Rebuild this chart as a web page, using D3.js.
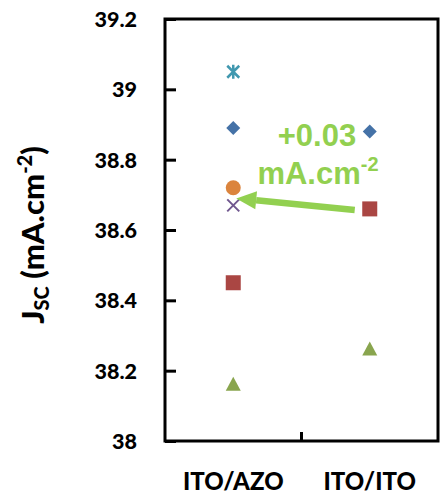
<!DOCTYPE html>
<html>
<head>
<meta charset="utf-8">
<script src="https://cdn.jsdelivr.net/npm/d3@7"></script>
<style>
  html, body { margin: 0; padding: 0; background: #fff; }
  svg { display: block; }
</style>
</head>
<body>
<svg id="chart" width="442" height="495"></svg>
<script>
// Short-circuit current density per electrode configuration
const categories = ["ITO/AZO", "ITO/ITO"];
const seriesNames = ["S1", "S2", "S3", "S4", "S5", "S6"];
const seriesShapes = ["diamond", "square", "triangle", "x", "star", "circle"];
const seriesColors = ["#4572A7", "#AA4643", "#89A54E", "#71588F", "#4198AF", "#DB843D"];
const seriesValues = [
  [38.89, 38.88],
  [38.45, 38.66],
  [38.16, 38.26],
  [38.67, null],
  [39.05, null],
  [38.72, null]
];
const yTicks = [38, 38.2, 38.4, 38.6, 38.8, 39, 39.2];
const yTickLabels = ["38", "38.2", "38.4", "38.6", "38.8", "39", "39.2"];
// Annotated gain: ITO/ITO square -> ITO/AZO cross
const deltaLabel = ["+0.03", "mA.cm", "-2"];

const svg = d3.select("#chart");
const plotLeft = 165, plotRight = 438, plotTop = 19, plotBottom = 441;

const x = d3.scaleBand().domain(categories).range([plotLeft, plotRight]);
const y = d3.scaleLinear().domain([38, 39.2]).range([plotBottom, plotTop]);

const font = "Lato, 'Open Sans', sans-serif";
const weight = 900;

// frame
svg.append("rect")
  .attr("x", plotLeft).attr("y", plotTop)
  .attr("width", plotRight - plotLeft).attr("height", plotBottom - plotTop)
  .attr("fill", "none").attr("stroke", "#000").attr("stroke-width", 3);

// y axis with inward ticks
const yAxis = d3.axisLeft(y).tickValues(yTicks)
  .tickFormat((d, i) => yTickLabels[i])
  .tickSizeInner(-11).tickSizeOuter(0).tickPadding(28);
const gy = svg.append("g").attr("transform", `translate(${plotLeft},0)`).call(yAxis);
gy.select(".domain").remove();
gy.selectAll(".tick line").attr("stroke", "#000").attr("stroke-width", 3);
gy.selectAll(".tick text")
  .attr("font-family", font).attr("font-weight", weight).attr("font-size", 21.5)
  .attr("fill", "#000").attr("dy", "0.35em");

// x axis: single divider tick between categories
const gx = svg.append("g").attr("transform", `translate(0,${plotBottom})`);
gx.append("line")
  .attr("x1", x.step() + plotLeft).attr("x2", x.step() + plotLeft)
  .attr("y1", 0).attr("y2", -9)
  .attr("stroke", "#000").attr("stroke-width", 3);
gx.selectAll("text").data(categories).join("text")
  .attr("x", d => x(d) + x.bandwidth() / 2)
  .attr("y", 49)
  .attr("text-anchor", "middle")
  .attr("font-family", font).attr("font-weight", weight).attr("font-size", 24)
  .attr("fill", "#000")
  .text(d => d);

// y axis title
const title = svg.append("text")
  .attr("transform", `translate(44,235) rotate(-90)`)
  .attr("text-anchor", "middle")
  .attr("font-family", font).attr("font-weight", weight).attr("font-size", 31)
  .attr("fill", "#000");
title.append("tspan").text("J");
title.append("tspan").attr("font-size", 20).attr("dy", 5).text("SC");
title.append("tspan").attr("dy", -5).text(" (mA.cm");
title.append("tspan").attr("font-size", 20).attr("dy", -12).text("-2");
title.append("tspan").attr("dy", 12).text(")");

// markers
function drawMarker(g, shape, color, cx, cy) {
  if (shape === "diamond") {
    g.append("path").attr("d", `M${cx},${cy-7}L${cx+7},${cy}L${cx},${cy+7}L${cx-7},${cy}Z`).attr("fill", color);
  } else if (shape === "square") {
    g.append("rect").attr("x", cx - 7.5).attr("y", cy - 7.5).attr("width", 15).attr("height", 15).attr("fill", color);
  } else if (shape === "triangle") {
    g.append("path").attr("d", `M${cx},${cy-8}L${cx+7.5},${cy+6}L${cx-7.5},${cy+6}Z`).attr("fill", color);
  } else if (shape === "circle") {
    g.append("circle").attr("cx", cx).attr("cy", cy).attr("r", 7.5).attr("fill", color);
  } else if (shape === "x") {
    g.append("path").attr("d", `M${cx-6},${cy-6}L${cx+6},${cy+6}M${cx-6},${cy+6}L${cx+6},${cy-6}`)
      .attr("stroke", color).attr("stroke-width", 2).attr("fill", "none");
  } else if (shape === "star") {
    g.append("path").attr("d", `M${cx-6},${cy-6}L${cx+6},${cy+6}M${cx-6},${cy+6}L${cx+6},${cy-6}M${cx},${cy-7}L${cx},${cy+7}`)
      .attr("stroke", color).attr("stroke-width", 2.5).attr("fill", "none");
  }
}

const gm = svg.append("g");
seriesValues.forEach((vals, si) => {
  vals.forEach((v, ci) => {
    if (v == null) return;
    drawMarker(gm, seriesShapes[si], seriesColors[si], x(categories[ci]) + x.bandwidth() / 2, y(v));
  });
});

// annotation arrow from ITO/ITO square toward ITO/AZO cross
const green = "#92D050";
const x0 = x(categories[1]) + x.bandwidth() / 2 - 15, y0 = y(seriesValues[1][1]) + 1;
const x1 = x(categories[0]) + x.bandwidth() / 2 + 3, y1 = y(seriesValues[3][0]) - 7;
const ang = Math.atan2(y1 - y0, x1 - x0);
const headLen = 20, headW = 9;
const bx = x1 - headLen * Math.cos(ang), by = y1 - headLen * Math.sin(ang);
svg.append("line").attr("x1", x0).attr("y1", y0).attr("x2", bx).attr("y2", by)
  .attr("stroke", green).attr("stroke-width", 6.5);
svg.append("path")
  .attr("d", `M${x1},${y1}L${bx + headW * Math.sin(ang)},${by - headW * Math.cos(ang)}L${bx - headW * Math.sin(ang)},${by + headW * Math.cos(ang)}Z`)
  .attr("fill", green);

const ann = svg.append("g").attr("font-family", "'Liberation Sans', Arial, sans-serif")
  .attr("font-weight", "bold").attr("fill", green);
ann.append("text").attr("x", 317).attr("y", 146).attr("text-anchor", "middle")
  .attr("font-size", 31).text(deltaLabel[0]);
const t2 = ann.append("text").attr("x", 318).attr("y", 184).attr("text-anchor", "middle")
  .attr("font-size", 31);
t2.append("tspan").text(deltaLabel[1]);
t2.append("tspan").attr("font-size", 20).attr("dy", -13).text(deltaLabel[2]);
</script>
</body>
</html>
